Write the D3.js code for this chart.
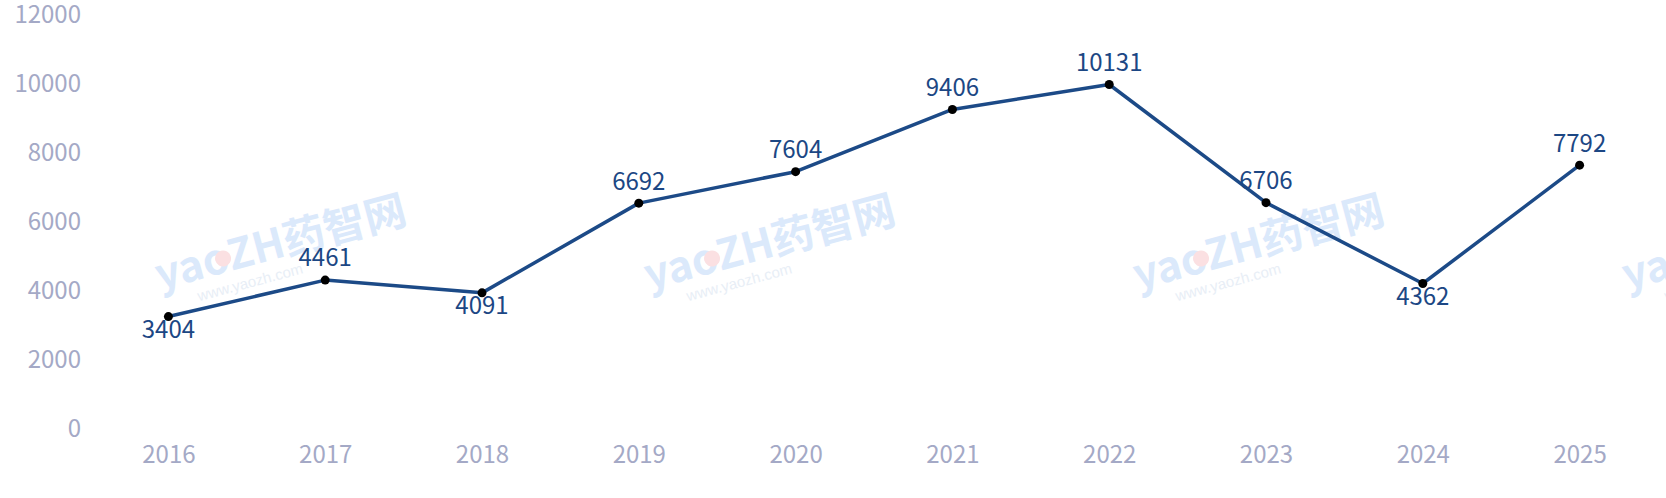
<!doctype html>
<html lang="zh">
<head>
    <meta charset="utf-8">
    <title>Line chart 2016-2025</title>
    <script src="https://cdnjs.cloudflare.com/ajax/libs/d3/7.8.5/d3.min.js"></script>
    <style>
        body { margin: 0; background: #fff; }
        svg text { font-family: "Noto Sans CJK SC", "Noto Sans", sans-serif; }
        .axis text { fill: #a4a9c6; font-size: 24px; }
        .axis path, .axis line { display: none; }
        .val { fill: #1c4784; font-size: 24px; text-anchor: middle; }
        .wm text { font-family: "Liberation Sans", Arial, sans-serif; }
    </style>
</head>
<body>
    <div id="chart"></div>
    <script>
        var years = ['2016', '2017', '2018', '2019', '2020', '2021', '2022', '2023', '2024', '2025'];
        var values = [3404, 4461, 4091, 6692, 7604, 9406, 10131, 6706, 4362, 7792];
        var yTicks = [0, 2000, 4000, 6000, 8000, 10000, 12000];

        var width = 1666;
        var height = 498;

        var svg = d3.select('#chart')
            .append('svg')
            .attr('width', width)
            .attr('height', height);

        // watermark behind everything
        var wmCenters = [281, 770, 1259, 1748];
        var wm = svg.append('g').attr('class', 'wm');
        wmCenters.forEach(function(cx) {
            var g = wm.append('g')
                .attr('transform', 'translate(' + cx + ',243) rotate(-15)');
            g.append('text')
                .attr('x', 0).attr('y', 14)
                .attr('text-anchor', 'middle')
                .attr('font-size', 42)
                .attr('font-weight', 'bold')
                .attr('fill', '#dbe9fb')
                .style('font-family', '"Noto Sans CJK SC", sans-serif')
                .text('yaoZH药智网');
            g.append('circle')
                .attr('cx', -60).attr('cy', 0)
                .attr('r', 8)
                .attr('fill', '#fbe0e2');
            g.append('text')
                .attr('x', -40).attr('y', 35)
                .attr('text-anchor', 'middle')
                .attr('font-size', 15)
                .attr('fill', '#e8eef6')
                .text('www.yaozh.com');
        });

        var x = d3.scalePoint()
            .domain(years)
            .range([90, 1658])
            .padding(0.5);

        var y = d3.scaleLinear()
            .domain([0, 12000])
            .range([434, 20]);

        var yAxis = svg.append('g')
            .attr('class', 'axis')
            .attr('transform', 'translate(90,0)')
            .call(d3.axisLeft(y).tickValues(yTicks).tickSize(0).tickPadding(9).tickFormat(d3.format('d')));
        yAxis.selectAll('text').attr('dy', '0.1em');

        var xAxis = svg.append('g')
            .attr('class', 'axis')
            .attr('transform', 'translate(0,434)')
            .call(d3.axisBottom(x).tickSize(0));
        xAxis.selectAll('text').attr('y', 21).attr('dy', '0.35em');

        var line = d3.line()
            .x(function(d, i) { return x(years[i]); })
            .y(function(d) { return y(d); });

        svg.append('path')
            .datum(values)
            .attr('fill', 'none')
            .attr('stroke', '#1c4a87')
            .attr('stroke-width', 3.5)
            .attr('stroke-linejoin', 'round')
            .attr('d', line);

        svg.selectAll('circle.dot')
            .data(values)
            .enter().append('circle')
            .attr('class', 'dot')
            .attr('cx', function(d, i) { return x(years[i]); })
            .attr('cy', function(d) { return y(d); })
            .attr('r', 4.5)
            .attr('fill', '#000');

        // labels go below local minimums, above otherwise
        function below(i) {
            var prev = i > 0 ? values[i - 1] : Infinity;
            var next = i < values.length - 1 ? values[i + 1] : Infinity;
            return values[i] < prev && values[i] < next;
        }

        svg.selectAll('text.val')
            .data(values)
            .enter().append('text')
            .attr('class', 'val')
            .attr('x', function(d, i) { return x(years[i]); })
            .attr('y', function(d, i) { return y(d) + (below(i) ? 13 : -22); })
            .attr('dy', '0.35em')
            .text(function(d) { return d; });
    </script>
</body>
</html>
